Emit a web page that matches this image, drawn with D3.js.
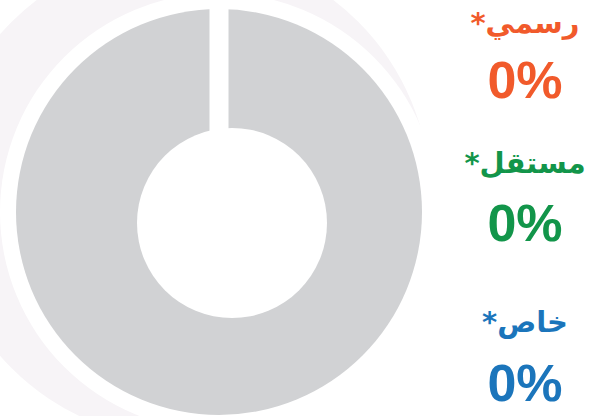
<!DOCTYPE html>
<html lang="ar">
<head>
<meta charset="utf-8">
<script src="https://cdn.jsdelivr.net/npm/d3@7"></script>
<style>
  html, body { margin: 0; padding: 0; background: #ffffff; }
  svg { display: block; }
</style>
</head>
<body>
<svg id="chart" width="600" height="416"></svg>
<script>
// Sector categories and their share of the total (percent)
const categories = ["رسمي", "مستقل", "خاص"];
const values = [0, 0, 0];
const total = 100;

const palette = ["#f15a2b", "#12954a", "#1b75bb"];
const emptyColor = "#d1d2d4";

const svg = d3.select("#chart");

// Ring geometry
const cx = 219, cy = 212;
const outerR = 203;
const holeCx = 232, holeCy = 223, holeR = 95;
const gapWidth = 19;

// Faint backdrop behind the ring
svg.append("circle")
  .attr("cx", 185).attr("cy", 195).attr("r", 245)
  .attr("fill", "#f7f4f7");
svg.append("circle")
  .attr("cx", cx).attr("cy", cy).attr("r", 219)
  .attr("fill", "#ffffff");

// Pie layout: the three categories plus the unassigned remainder
const color = d3.scaleOrdinal(categories, palette);
const slices = categories.map((c, i) => ({ key: c, value: values[i] }));
slices.push({ key: "rest", value: total - d3.sum(values) });

const pie = d3.pie().sort(null).value(d => d.value).startAngle(0).endAngle(2 * Math.PI);
const arc = d3.arc().innerRadius(0).outerRadius(outerR);

const ring = svg.append("g").attr("transform", `translate(${cx},${cy})`);
ring.selectAll("path")
  .data(pie(slices))
  .join("path")
  .attr("d", arc)
  .attr("fill", d => d.data.key === "rest" ? emptyColor : color(d.data.key));

// Separator at the start angle of the pie
ring.append("rect")
  .attr("x", -gapWidth / 2)
  .attr("y", -outerR - 2)
  .attr("width", gapWidth)
  .attr("height", outerR + 2)
  .attr("fill", "#ffffff");

// Centre hole
svg.append("circle")
  .attr("cx", holeCx).attr("cy", holeCy).attr("r", holeR)
  .attr("fill", "#ffffff");

// Legend column with category names and their percentages
const fmt = d3.format(".0%");
const legendX = 525;
const nameY = [33, 173, 332];
const valueY = [98, 241, 401];

const legend = svg.append("g");
categories.forEach((c, i) => {
  legend.append("text")
    .attr("x", legendX)
    .attr("y", nameY[i])
    .attr("text-anchor", "middle")
    .style("direction", "rtl")
    .attr("font-family", "'DejaVu Sans', 'Noto Sans', sans-serif")
    .attr("font-weight", "bold")
    .attr("font-size", 29)
    .attr("fill", color(c))
    .text(c + "*");
  legend.append("text")
    .attr("x", legendX)
    .attr("y", valueY[i])
    .attr("text-anchor", "middle")
    .attr("font-family", "'Liberation Sans', Arial, sans-serif")
    .attr("font-weight", "bold")
    .attr("font-size", 52)
    .attr("fill", color(c))
    .text(fmt(values[i] / total));
});
</script>
</body>
</html>
